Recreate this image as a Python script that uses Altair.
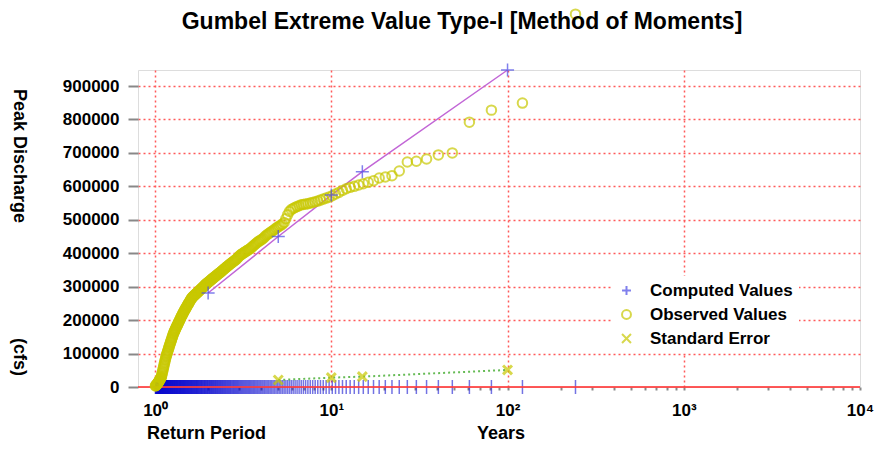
import altair as alt
import pandas as pd

# ---------------- data ----------------
observed_q = [
    1115000, 849000, 828000, 792000, 700000, 694000, 682000, 675000, 673000, 646000,
    632000, 628000, 625000, 617000, 612000, 608000, 604000, 600000, 597000, 593000,
    588000, 582000, 577000, 572000, 568000, 565000, 562000, 559000, 556000, 554000,
    552000, 550000, 548000, 547000, 546000, 545000, 542000, 540000, 537000, 534000,
    531000, 525000, 515000, 503000, 492000, 487000, 484000, 481000, 478000, 475000,
    471000, 468000, 465000, 462000, 459000, 456000, 453000, 449000, 445000, 442000,
    440000, 437000, 435000, 432000, 429000, 426000, 423000, 420000, 417000, 414000,
    412000, 410000, 408000, 406000, 404000, 402000, 400000, 398000, 396000, 394000,
    391000, 388000, 385000, 382000, 380000, 378000, 376000, 374000, 372000, 370000,
    368000, 366000, 364000, 362000, 360000, 358000, 356000, 354000, 352000, 350000,
    348000, 346000, 344000, 342000, 341000, 339000, 337000, 335000, 334000, 332000,
    330000, 329000, 327000, 325000, 324000, 322000, 320000, 319000, 317000, 315000,
    314000, 312000, 311000, 309000, 308000, 306000, 304000, 302000, 300000, 299000,
    297000, 295000, 294000, 292000, 290000, 289000, 287000, 285000, 284000, 282000,
    281000, 279000, 278000, 276000, 275000, 273000, 272000, 270000, 269000, 267000,
    265000, 262000, 260000, 257000, 255000, 252000, 250000, 247000, 245000, 242000,
    240000, 237000, 235000, 232000, 230000, 227000, 225000, 222000, 220000, 217000,
    214000, 212000, 209000, 206000, 203000, 200000, 198000, 195000, 192000, 190000,
    187000, 184000, 182000, 179000, 176000, 174000, 171000, 168000, 166000, 163000,
    160000, 157000, 153000, 149000, 146000, 142000, 139000, 135000, 132000, 128000,
    125000, 121000, 118000, 114000, 110000, 107000, 103000, 100000, 96000, 93000,
    89000, 84000, 80000, 75000, 71000, 66000, 61000, 57000, 52000, 47000,
    43000, 39000, 34000, 30000, 28000, 26000, 24000, 22000, 20000, 19000,
    17000, 15000, 14000, 12000, 11000, 9500, 8000, 7000, 6000, 5000,
    4000, 3000,
]

computed_t = [2, 5, 10, 15, 100]
computed_q = [281000, 450000, 574000, 644000, 948000]

stderr_t = [5, 10, 15, 100]
stderr_q = [21000, 28000, 31000, 51000]

series_names = ["Computed Values", "Observed Values", "Standard Error"]

x_tick_values = [1, 2, 3, 4, 5, 6, 7, 8, 9,
                 10, 20, 30, 40, 50, 60, 70, 80, 90,
                 100, 200, 300, 400, 500, 600, 700, 800, 900,
                 1000, 2000, 3000, 4000, 5000, 6000, 7000, 8000, 9000, 10000]
y_tick_values = [0, 100000, 200000, 300000, 400000, 500000,
                 600000, 700000, 800000, 900000]

# ---------------- tables ----------------
n = len(observed_q)
obs_t = [(n + 1) / m for m in range(1, n + 1)]  # Weibull plotting position

obs_df = pd.DataFrame({"T": obs_t, "Q": observed_q, "series": series_names[1]})
rug_df = pd.DataFrame({"T": obs_t, "Q": [0] * n})
comp_df = pd.DataFrame({"T": computed_t, "Q": computed_q, "series": series_names[0]})
se_df = pd.DataFrame({"T": stderr_t, "Q": stderr_q, "series": series_names[2]})
zero_df = pd.DataFrame({"Q": [0]})

FONT = "Liberation Sans"
GRID = "#ff5a5a"

x_scale = alt.Scale(type="log", domain=[0.8, 10000], nice=False)
y_scale = alt.Scale(domain=[0, 948000], nice=False, zero=False)

sup = {1: "10\u2070", 10: "10\u00b9", 100: "10\u00b2", 1000: "10\u00b3", 10000: "10\u2074"}
label_expr = " : ".join(
    [f"datum.value == {k} ? '{v}'" for k, v in sup.items()]) + " : ''"

x_axis = alt.Axis(
    values=x_tick_values, labelExpr=label_expr, title=None,
    grid=True, gridColor=GRID, gridDash=[2, 3], gridWidth=1.5,
    gridOpacity={"condition": {"test": "indexof([1,10,100,1000], datum.value) < 0",
                               "value": 0}, "value": 1},
    domain=False, tickColor="#888888", tickSize=3, tickWidth=2,
    labelFont=FONT, labelFontSize=17, labelFontWeight="bold", labelColor="black",
    labelPadding=12, labelOverlap=False, labelFlush=False,
)
y_axis = alt.Axis(
    values=y_tick_values, format="d", title=None,
    grid=True, gridColor=GRID, gridDash=[2, 3], gridWidth=1.5,
    gridOpacity={"condition": {"test": "datum.value === 0", "value": 0}, "value": 1},
    domain=False, tickColor="#888888", tickSize=10, tickWidth=2,
    labelFont=FONT, labelFontSize=17, labelFontWeight="bold", labelColor="black",
    labelPadding=9,
)

X = alt.X("T:Q", scale=x_scale, axis=x_axis)
Y = alt.Y("Q:Q", scale=y_scale, axis=y_axis)

color_scale = alt.Scale(domain=series_names, range=["#4b4be6", "#c8c800", "#c8c800"])
shape_scale = alt.Scale(domain=series_names,
                        range=["M-1,0L1,0M0,-1L0,1", "circle", "M-1,-1L1,1M-1,1L1,-1"])
legend = alt.Legend(
    title=None, orient="none", legendX=474, legendY=206,
    fillColor="white", padding=6, rowPadding=6, labelOffset=15,
    labelFont=FONT, labelFontSize=17, labelFontWeight="bold", labelColor="black",
    symbolSize=80, symbolStrokeWidth=2,
)
C = alt.Color("series:N", scale=color_scale, legend=legend)
S = alt.Shape("series:N", scale=shape_scale, legend=legend)

rug = alt.Chart(rug_df).mark_tick(
    orient="vertical", size=14, thickness=1.5, color="#0000cc", opacity=0.55
).encode(x=X, y=Y)

zero_line = alt.Chart(zero_df).mark_rule(color="#ff3c3c", strokeWidth=2, opacity=0.85).encode(y=Y)

comp_line = alt.Chart(comp_df).mark_line(color="#c266d6", strokeWidth=1.5).encode(x=X, y=Y)
se_line = alt.Chart(se_df).mark_line(color="#66bb55", strokeWidth=2, strokeDash=[2, 3]).encode(x=X, y=Y)

obs_pts = alt.Chart(obs_df).mark_point(filled=False, size=90, strokeWidth=2).encode(
    x=X, y=Y, color=C, shape=S)
comp_pts = alt.Chart(comp_df).mark_point(filled=False, size=170, strokeWidth=1.5).encode(
    x=X, y=Y, color=C, shape=S)
se_pts = alt.Chart(se_df).mark_point(filled=False, size=80, strokeWidth=3).encode(
    x=X, y=Y, color=C, shape=S)

txt = pd.DataFrame({"a": [0]})
def label(text, x, y, size, angle=0, align="center", baseline="middle"):
    return alt.Chart(txt).mark_text(
        text=text, font=FONT, fontSize=size, fontWeight="bold", color="black",
        angle=angle, align=align, baseline=baseline
    ).encode(x=alt.value(x), y=alt.value(y))

title = label("Gumbel Extreme Value Type-I [Method of Moments]", 324, -41, 23,
              baseline="alphabetic")
ylab1 = label("Peak Discharge", -119, 86, 18, angle=90)
ylab2 = label("(cfs)", -119, 287, 18, angle=90)
xlab1 = label("Return Period", 9, 364, 18, align="left")
xlab2 = label("Years", 363, 364, 18)

chart = alt.layer(
    rug, zero_line, comp_line, se_line, obs_pts, comp_pts, se_pts,
    title, ylab1, ylab2, xlab1, xlab2,
).properties(
    width=722, height=317,
    autosize=alt.AutoSizeParams(type="none"),
    padding={"left": 130, "top": 62, "right": 18, "bottom": 57},
).configure_view(
    stroke="#ff7070", strokeWidth=2
).configure(background="white")

chart.save("out.html", embed_options={"renderer": "svg", "actions": False})
